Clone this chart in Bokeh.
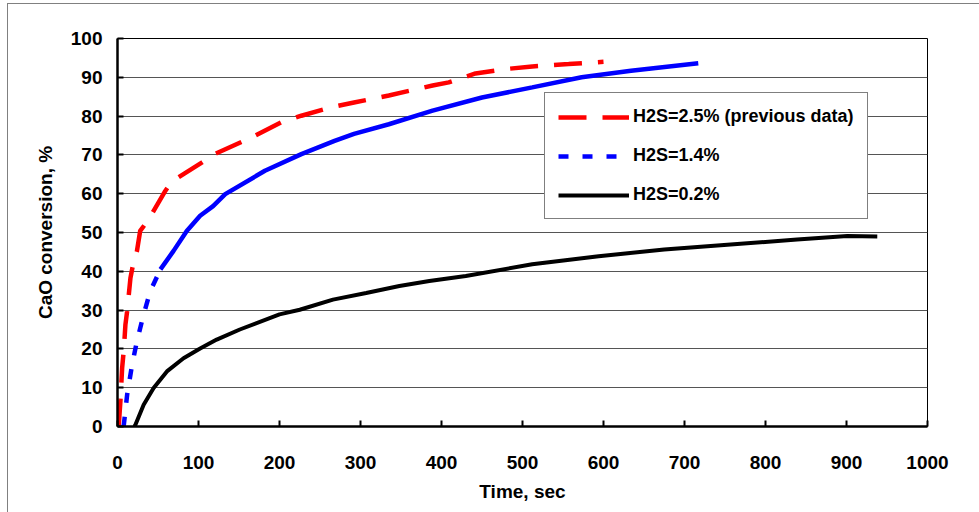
from bokeh.plotting import figure
from bokeh.models import Range1d, FixedTicker, Legend, LegendItem
from bokeh.embed import file_html
from bokeh.resources import INLINE

# CaO conversion (%) versus time (s) for three H2S concentrations
red_t = [1, 1.6, 3.7, 5.7, 7.8, 9.8, 11.9, 16, 20, 24, 28, 38.5, 59, 65, 75, 104, 120, 165.5, 202, 227, 264, 292, 335, 389, 409, 442, 483, 512, 557, 600]
red_v = [0, 0.4, 6.9, 15, 19.8, 26.3, 29.7, 38.3, 42.6, 45.2, 50.4, 53.4, 60.7, 62.5, 64.2, 68, 70.2, 74.5, 78.4, 80.1, 82.3, 83.5, 85.3, 87.9, 88.7, 91, 92.2, 92.8, 93.4, 94]

blue_t = [7, 7.8, 11.9, 18, 24, 32.3, 40.5, 53, 69, 85.5, 102, 118, 133, 182, 227, 268, 292, 335, 389, 450, 512, 573, 634, 717]
blue_v = [0, 0.4, 8.2, 15.9, 22, 28.9, 34.9, 40.5, 45.2, 50.4, 54.3, 56.8, 59.9, 65.9, 70.2, 73.6, 75.4, 77.9, 81.4, 84.8, 87.4, 90, 91.7, 93.6]

black_t = [21, 22, 32.3, 44.6, 61, 81.5, 102, 122.5, 151, 200, 225, 266, 307, 348, 385, 430, 512, 594, 675, 757, 839, 901, 938]
black_v = [0, 0.4, 5.6, 9.9, 14.2, 17.6, 20.1, 22.4, 25, 28.9, 30.1, 32.7, 34.4, 36.2, 37.5, 38.8, 41.8, 43.9, 45.6, 46.9, 48.2, 49.1, 49.0]

labels = ["H2S=2.5% (previous data)", "H2S=1.4%", "H2S=0.2%"]
x_ticks = list(range(0, 1001, 100))
y_ticks = list(range(0, 101, 10))

# the steep start of the 1.4% run is drawn dotted, the dense part solid
BLUE_DOTTED_UNTIL = 45

FONT = "Liberation Sans"

p = figure(width=972, height=509, x_range=Range1d(0, 1000), y_range=Range1d(0, 100),
           output_backend="svg", toolbar_location=None,
           min_border_left=109, min_border_right=53, min_border_top=34, min_border_bottom=87)
p.margin = (3, 0, 0, 7)
p.styles = {"border-left": "1px solid #808080", "border-top": "1px solid #808080"}
p.background_fill_color = "white"
p.border_fill_color = "white"
p.outline_line_color = "black"
p.outline_line_width = 1

p.xgrid.grid_line_color = None
p.ygrid.grid_line_color = "#555555"
p.ygrid.grid_line_width = 1
p.xaxis.ticker = FixedTicker(ticks=x_ticks)
p.yaxis.ticker = FixedTicker(ticks=y_ticks)

for ax in (p.xaxis[0], p.yaxis[0]):
    ax.axis_line_color = "black"
    ax.axis_line_width = 2.5
    ax.major_tick_line_color = "black"
    ax.major_tick_line_width = 2
    ax.major_tick_in = 6
    ax.major_tick_out = 0
    ax.minor_tick_line_color = None
    ax.major_label_text_font = FONT
    ax.major_label_text_font_style = "bold"
    ax.major_label_text_font_size = "19px"
    ax.major_label_text_color = "black"
    ax.axis_label_text_font = FONT
    ax.axis_label_text_font_style = "bold"
    ax.axis_label_text_font_size = "19px"
    ax.axis_label_text_color = "black"

p.xaxis.axis_label = "Time, sec"
p.yaxis.axis_label = "CaO conversion, %"
p.xaxis.major_label_standoff = 29
p.xaxis.axis_label_standoff = 9
p.yaxis.major_label_standoff = 15
p.yaxis.axis_label_standoff = 12

r_red = p.line(red_t, red_v, line_color="#ff0000", line_width=4.5, line_dash="28 16")

split = next(i for i, t in enumerate(blue_t) if t >= BLUE_DOTTED_UNTIL)
r_blue = p.line(blue_t[:split + 1], blue_v[:split + 1], line_color="#0000ff", line_width=4.5, line_dash="10 14")
p.line(blue_t[split:], blue_v[split:], line_color="#0000ff", line_width=4.5)

r_black = p.line(black_t, black_v, line_color="black", line_width=4)

legend = Legend(items=[LegendItem(label=labels[0], renderers=[r_red]),
                       LegendItem(label=labels[1], renderers=[r_blue]),
                       LegendItem(label=labels[2], renderers=[r_black])],
                location=(427, 207))
legend.margin = 0
legend.padding = 13
legend.spacing = 18
legend.glyph_width = 71
legend.glyph_height = 20
legend.label_height = 20
legend.label_standoff = 4
legend.label_text_font = FONT
legend.label_text_font_style = "bold"
legend.label_text_font_size = "18px"
legend.label_text_color = "black"
legend.border_line_color = "black"
legend.border_line_width = 1
legend.background_fill_color = "white"
legend.background_fill_alpha = 1
p.add_layout(legend, "center")

open("out.html", "w").write(file_html(p, INLINE))
